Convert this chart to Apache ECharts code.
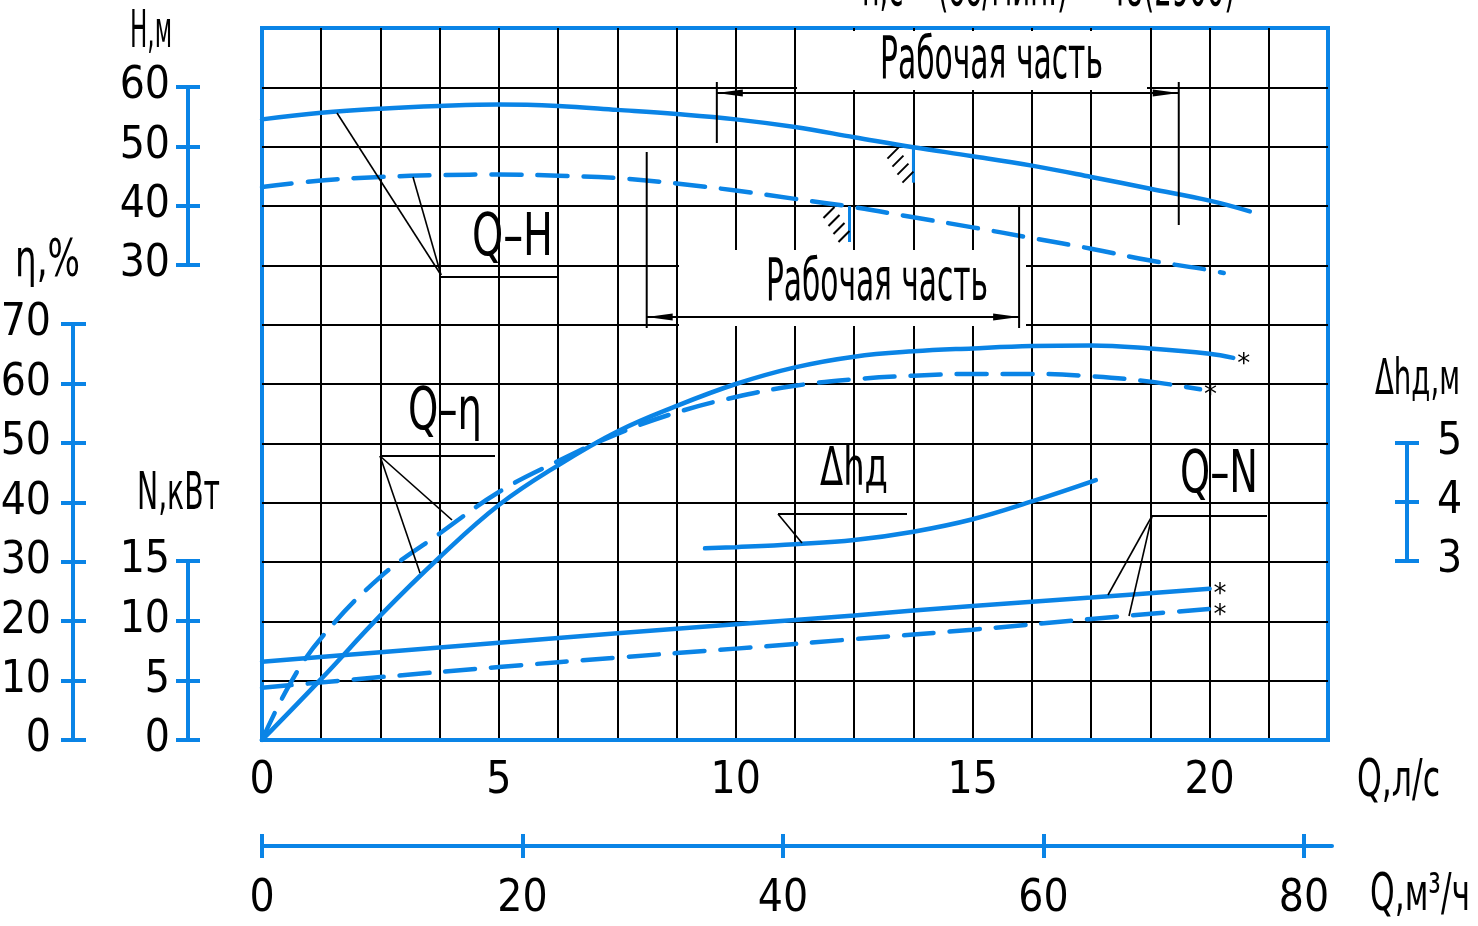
<!DOCTYPE html>
<html><head><meta charset="utf-8">
<script src="https://cdn.jsdelivr.net/npm/echarts@6/dist/echarts.min.js"></script>
<style>html,body{margin:0;padding:0;background:#fff}#c{width:1478px;height:926px}</style>
</head><body><div id="c"></div>
<script>
// ---------- data ----------
const qTicks   = [0, 5, 10, 15, 20];          // Q, л/с
const qGridStep = 1.25;
const qMax     = 22.5;
const qm3Ticks = [0, 20, 40, 60, 80];         // Q, м3/ч
const hTicks   = [30, 40, 50, 60];            // H, м
const etaTicks = [0, 10, 20, 30, 40, 50, 60, 70]; // η, %
const nTicks   = [0, 5, 10, 15];              // N, кВт
const dhTicks  = [3, 4, 5];                   // Δhд, м

// Q-H (solid / dashed)
const qhQ1 = [0, 1.25, 2.5, 3.75, 5, 6.25, 7.5, 8.75, 10, 11.25, 12.5, 13.75, 15, 16.25, 17.5, 18.75, 20, 20.85];
const qhH1 = [54.6, 55.7, 56.4, 56.85, 57.1, 56.85, 56.2, 55.5, 54.6, 53.3, 51.6, 49.9, 48.4, 46.8, 44.9, 42.9, 40.9, 39.1];
const qhQ2 = [0, 1.25, 2.5, 3.75, 5, 6.25, 7.5, 8.75, 10, 11.25, 12.5, 13.75, 15, 16.25, 17.5, 18.75, 20, 20.3];
const qhH2 = [43.2, 44.3, 44.9, 45.2, 45.3, 45.1, 44.7, 43.8, 42.6, 41.2, 39.8, 38.1, 36.4, 34.6, 32.8, 30.8, 29.2, 28.7];
// Q-η
const qeQ1 = [0, 1.25, 2.5, 3.75, 5, 6.25, 7.5, 8.75, 10, 11.25, 12.5, 13.75, 15, 16.25, 17.5, 18.75, 20, 20.5];
const qeE1 = [0, 10.3, 21.0, 30.8, 39.6, 46.3, 52.0, 56.3, 60.0, 62.8, 64.6, 65.5, 66.0, 66.4, 66.5, 66.0, 65.1, 64.4];
const qeQ2 = [0, 0.6, 1.25, 2.5, 3.75, 5, 6.25, 7.5, 8.75, 10, 11.25, 12.5, 13.75, 15, 16.25, 17.5, 18.75, 19.8];
const qeE2 = [0, 9.6, 17.2, 27.5, 34.8, 41.8, 47.0, 51.6, 55.2, 57.8, 59.7, 60.8, 61.4, 61.7, 61.7, 61.3, 60.4, 59.1];
// Q-N
const qnQ1 = [0, 2.5, 5, 7.5, 10, 12.5, 15, 17.5, 20];
const qnN1 = [6.6, 7.4, 8.2, 9.0, 9.75, 10.5, 11.3, 12.0, 12.75];
const qnQ2 = [0, 2.5, 5, 7.5, 10, 12.5, 15, 17.5, 20];
const qnN2 = [4.4, 5.3, 6.15, 6.95, 7.7, 8.5, 9.3, 10.2, 11.05];
// Q-Δhд
const qdQ = [9.35, 10, 11.25, 12.5, 13.75, 15, 16.25, 17.6];
const qdH = [3.23, 3.25, 3.30, 3.37, 3.51, 3.72, 4.02, 4.38];
// working ranges (Q, л/с) and limit points
const work1 = [9.6, 19.35];
const work2 = [8.12, 15.98];
const limit1 = [13.75, 50];  // on solid Q-H
const limit2 = [12.4, 40];   // on dashed Q-H

// ---------- style ----------
const BLUE = '#0a84e6';
const FONT = '"Liberation Sans Narrow","DejaVu Sans Condensed","Liberation Sans",sans-serif';
const LBL = {color: '#000', fontSize: 44, fontFamily: FONT};
const zip = (a, b) => a.map((v, i) => [v, b[i]]);
const step = a => a[1] - a[0];

const chart = echarts.init(document.getElementById('c'), null, {renderer: 'canvas'});

const blueSplit = {show: true, lineStyle: {color: BLUE, width: 4}};
const smallGrid = (l, t, w, h) => ({left: l, top: t, width: w, height: h, outerBoundsMode: 'none', containLabel: false});

const lineS = (name, q, v, yi, dashed, star) => ({
  name, type: 'line', xAxisIndex: 0, yAxisIndex: yi, data: zip(q, v),
  smooth: 0.4, showSymbol: false, symbol: 'none', z: 5,
  lineStyle: {color: BLUE, width: 4.5, type: dashed ? [30, 16] : 'solid', cap: 'round'},
  endLabel: star ? {show: true, formatter: '*', color: '#000', fontSize: 26, fontFamily: 'DejaVu Sans', distance: 4, offset: [0, 7]} : {show: false},
  animation: false, silent: true
});

const option = {
  animation: false,
  backgroundColor: '#fff',
  grid: [
    {left: 262, top: 28, width: 1066, height: 712, show: true, borderColor: BLUE, borderWidth: 4, backgroundColor: 'transparent', outerBoundsMode: 'none', containLabel: false},
    smallGrid(176, 87, 24, 178),    // H
    smallGrid(61, 324, 25, 416),    // η
    smallGrid(176, 561, 24, 179),   // N
    smallGrid(1395, 443, 24, 118),  // Δhд
    smallGrid(262, 834, 1070, 24)   // Q m3/h
  ],
  xAxis: [
    {gridIndex: 0, type: 'value', min: 0, max: qMax, interval: qGridStep,
     axisLine: {show: true, lineStyle: {color: BLUE, width: 4}}, axisTick: {show: false},
     splitLine: {show: true, showMinLine: false, showMaxLine: false, lineStyle: {color: '#000', width: 2}},
     axisLabel: Object.assign({margin: 20, showMaxLabel: false, formatter: v => qTicks.includes(v) ? String(v) : ''}, LBL)},
    {gridIndex: 1, type: 'value', show: false},
    {gridIndex: 2, type: 'value', show: false},
    {gridIndex: 3, type: 'value', show: false},
    {gridIndex: 4, type: 'value', show: false},
    {gridIndex: 5, type: 'value', min: qm3Ticks[0], max: 82.15, interval: step(qm3Ticks), offset: -12,
     axisLine: {show: true, lineStyle: {color: BLUE, width: 4}}, axisTick: {show: false},
     splitLine: Object.assign({showMaxLine: false}, blueSplit),
     axisLabel: Object.assign({margin: 32, showMaxLabel: false, formatter: v => qm3Ticks.includes(v) ? String(v) : ''}, LBL)}
  ],
  yAxis: [
    {gridIndex: 0, type: 'value', min: 0, max: 12, interval: 1,
     axisLine: {show: false}, axisTick: {show: false}, axisLabel: {show: false},
     splitLine: {show: true, showMinLine: false, showMaxLine: false, lineStyle: {color: '#000', width: 2}}},
    {gridIndex: 0, type: 'value', min: -50, max: 70, show: false, splitLine: {show: false}},
    {gridIndex: 0, type: 'value', min: 0, max: 120, show: false, splitLine: {show: false}},
    {gridIndex: 0, type: 'value', min: 0, max: 60, show: false, splitLine: {show: false}},
    {gridIndex: 1, type: 'value', min: hTicks[0], max: hTicks[hTicks.length - 1], interval: step(hTicks), offset: -12,
     axisLine: {show: true, lineStyle: {color: BLUE, width: 4}}, axisTick: {show: false}, splitLine: blueSplit,
     axisLabel: Object.assign({margin: 18}, LBL)},
    {gridIndex: 2, type: 'value', min: etaTicks[0], max: etaTicks[etaTicks.length - 1], interval: step(etaTicks), offset: -12,
     axisLine: {show: true, lineStyle: {color: BLUE, width: 4}}, axisTick: {show: false}, splitLine: blueSplit,
     axisLabel: Object.assign({margin: 22}, LBL)},
    {gridIndex: 3, type: 'value', min: nTicks[0], max: nTicks[nTicks.length - 1], interval: step(nTicks), offset: -12,
     axisLine: {show: true, lineStyle: {color: BLUE, width: 4}}, axisTick: {show: false}, splitLine: blueSplit,
     axisLabel: Object.assign({margin: 18}, LBL)},
    {gridIndex: 4, type: 'value', position: 'right', min: dhTicks[0], max: dhTicks[dhTicks.length - 1], interval: step(dhTicks), offset: -12,
     axisLine: {show: true, lineStyle: {color: BLUE, width: 4}}, axisTick: {show: false}, splitLine: blueSplit,
     axisLabel: Object.assign({margin: 30}, LBL)},
    {gridIndex: 5, type: 'value', show: false}
  ],
  series: [
    lineS('Q-H', qhQ1, qhH1, 1, false, false),
    lineS('Q-H*', qhQ2, qhH2, 1, true, false),
    lineS('Q-η', qeQ1, qeE1, 2, false, true),
    lineS('Q-η*', qeQ2, qeE2, 2, true, true),
    lineS('Q-N', qnQ1, qnN1, 3, false, true),
    lineS('Q-N*', qnQ2, qnN2, 3, true, true),
    lineS('Δhд', qdQ, qdH, 0, false, false)
  ]
};
chart.setOption(option);

// ---------- annotations ----------
const ctx = document.createElement('canvas').getContext('2d');
function txt(s, left, midY, w, size) {
  const font = size + 'px ' + FONT;
  ctx.font = font;
  const mw = ctx.measureText(s).width || 1;
  return {type: 'text', x: left, y: midY, scaleX: w / mw, z: 30, silent: true,
    style: {text: s, x: 0, y: 0, font: font, fill: '#000', align: 'left', verticalAlign: 'middle', textAlign: 'left', textVerticalAlign: 'middle'}};
}
function ln(x1, y1, x2, y2, w, c) {
  return {type: 'line', z: 25, silent: true, shape: {x1, y1, x2, y2}, style: {stroke: c || '#000', lineWidth: w || 2}};
}
function arrow(tipX, y, dir) { // dir -1: points left, +1: points right
  const L = 26, h = 3.5;
  return {type: 'polygon', z: 26, silent: true, shape: {points: [[tipX, y], [tipX - dir * L, y - h], [tipX - dir * L, y + h]]}, style: {fill: '#000'}};
}
function white(x, y, w, h) {
  return {type: 'rect', z: 1, silent: true, shape: {x, y, width: w, height: h}, style: {fill: '#fff'}};
}
const P = (q, v, yi) => chart.convertToPixel({xAxisIndex: 0, yAxisIndex: yi}, [q, v]);
const XQ = q => P(q, 0, 0)[0];

const g = [];
// blank boxes behind the two "Рабочая часть" labels
g.push(white(797, 31, 350, 59));
g.push(white(679, 250, 347, 76));

// dimension lines
const a1 = XQ(work1[0]), b1 = XQ(work1[1]);
g.push(ln(a1, 82, a1, 143, 2), ln(b1, 82, b1, 225, 2), ln(a1, 93, b1, 93, 2), arrow(a1, 93, -1), arrow(b1, 93, 1));
const a2 = XQ(work2[0]), b2 = XQ(work2[1]);
g.push(ln(a2, 152, a2, 328, 2), ln(b2, 207, b2, 328, 2), ln(a2, 317, b2, 317, 2), arrow(a2, 317, -1), arrow(b2, 317, 1));

// limit marks with hatching
[limit1, limit2].forEach(pt => {
  const [px, py] = P(pt[0], pt[1], 1);
  g.push(ln(px, py, px, py + 36, 3, BLUE));
  for (let k = 0; k < 4; k++) {
    g.push(ln(px - 26 + 5 * k, py + 12 + 8 * k, px - 15 + 5 * k, py + 1 + 8 * k, 2));
  }
});

// leaders
g.push(ln(337, 113, 441, 275, 1.6), ln(413, 177, 441, 275, 1.6), ln(441, 277, 557, 277, 1.8));
g.push(ln(380, 456, 495, 456, 1.8), ln(380, 456, 452, 520, 1.6), ln(380, 456, 420, 573, 1.6));
g.push(ln(778, 514, 907, 514, 1.8), ln(778, 514, 802, 543, 1.6));
g.push(ln(1152, 516, 1267, 516, 1.8), ln(1152, 516, 1108, 595, 1.6), ln(1152, 516, 1129, 616, 1.6));

// texts
g.push(txt('n,c⁻¹ (об/мин.) = 48(2900)', 862, -10, 373, 56));
g.push(txt('Рабочая часть', 880, 63, 223, 58));
g.push(txt('Рабочая часть', 766, 285, 222, 58));
g.push(txt('Q–H', 472, 240, 81, 58));
g.push(txt('Q–η', 408, 414, 74, 58));
g.push(txt('Δhд', 820, 471, 68, 54));
g.push(txt('Q–N', 1180, 477, 78, 58));
g.push(txt('H,м', 130, 33, 42, 52));
g.push(txt('η,%', 15, 262, 65, 52));
g.push(txt('N,кВт', 137, 495, 83, 52));
g.push(txt('Δhд,м', 1375, 381, 85, 50));
g.push(txt('Q,л/с', 1357, 782, 83, 52));
g.push(txt('Q,м³/ч', 1370, 896, 100, 52));

chart.setOption({graphic: {elements: g}});
</script>
</body></html>
